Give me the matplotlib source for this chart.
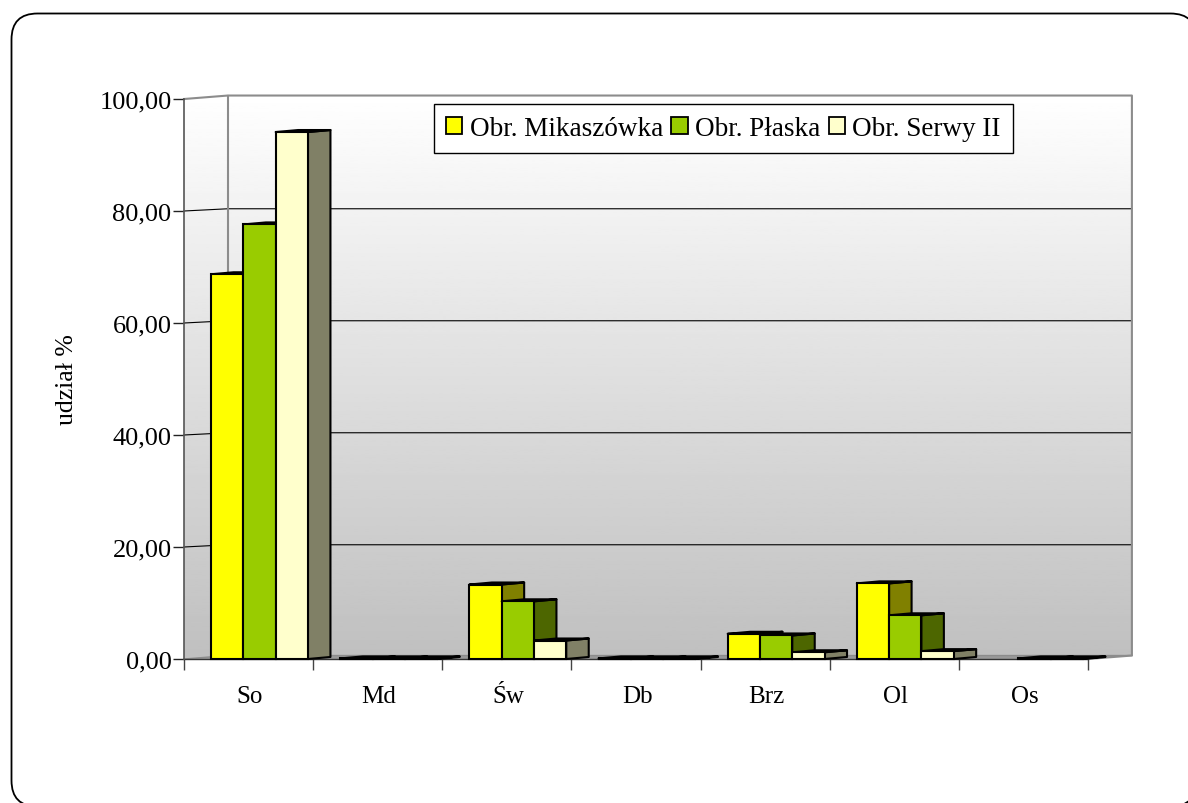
#!/usr/bin/env python3
"""Udzial gatunkow w obrebach - slupki z efektem 3D."""
import numpy as np
import matplotlib
matplotlib.use('Agg')
import matplotlib.pyplot as plt
from matplotlib.patches import Polygon, Rectangle, FancyBboxPatch

categories = ['So', 'Md', 'Św', 'Db', 'Brz', 'Ol', 'Os']
mikaszowka = [68.7, 0.1, 13.3, 0.1, 4.5, 13.5, 0.0]
plaska = [77.6, 0.1, 10.3, 0.1, 4.2, 7.8, 0.1]
serwy = [94.1, 0.1, 3.3, 0.1, 1.2, 1.4, 0.1]
series_names = ['Obr. Mikaszówka', 'Obr. Płaska', 'Obr. Serwy II']
y_ticks = [0, 20, 40, 60, 80, 100]

FRONT = ['#ffff00', '#99cc00', '#ffffcc']
SIDE = ['#808000', '#4d6600', '#808066']
BAR_W = 0.25
BAR_OFF = 0.21
DX, DY = 0.174, 0.36     # glebokosc slupka
WX, WY = 0.34, 0.62      # przesuniecie sciany tylnej
GRID_WY = 0.4            # linie siatki wchodza w sciane nizej niz jej gorna krawedz

plt.rcParams['font.family'] = ['Liberation Serif']
fig = plt.figure(figsize=(11.88, 8.04), dpi=100)

# ramka z zaokraglonymi rogami, wychodzi poza obraz z prawej i u dolu
bg = fig.add_axes([0, 0, 1, 1])
bg.set_xlim(0, 1188)
bg.set_ylim(804, 0)
bg.axis('off')
bg.add_patch(FancyBboxPatch((11.5, 14.5), 1185, 793, boxstyle='round,pad=0,rounding_size=26',
                            fc='white', ec='black', lw=1.3))

ax = fig.add_axes([184 / 1188, (804 - 660) / 804, 904 / 1188, 560 / 804])
ax.set_xlim(0, 7)
ax.set_ylim(0, 100)
ax.patch.set_alpha(0)

# tlo: sciana tylna i boczna z gradientem
grad = np.linspace(0.75, 1.0, 256).reshape(-1, 1)
im = ax.imshow(grad, extent=(0, 7 + WX, 0, 100 + WY), origin='lower', cmap='gray',
               vmin=0, vmax=1, aspect='auto', zorder=0)
wall = Polygon([(0, 0), (0, 100), (WX, 100 + WY), (7 + WX, 100 + WY), (7 + WX, WY), (7, 0)],
               closed=True, fc='none', ec='none', transform=ax.transData)
ax.add_patch(wall)
wall.set_clip_on(False)
im.set_clip_path(wall)
im.set_clip_box(fig.bbox)
ax.set_xlim(0, 7)
ax.set_ylim(0, 100)

# podloga
ax.add_patch(Polygon([(0, 0), (WX, WY), (7 + WX, WY), (7, 0)], closed=True, fc='#999999',
                     ec='none', zorder=1, clip_on=False))

# linie siatki i obrys scian
for v in y_ticks[1:-1]:
    ax.plot([0, WX, 7 + WX], [v, v + GRID_WY, v + GRID_WY], color='black', lw=0.8, zorder=1.5,
            clip_on=False)
edge = '#8c8c8c'
ax.plot([0, WX, 7 + WX, 7 + WX, 7], [100, 100 + WY, 100 + WY, WY, 0], color=edge, lw=1.5,
        zorder=1.5, clip_on=False)
ax.plot([WX, WX], [WY, 100 + WY], color=edge, lw=1.5, zorder=1.5, clip_on=False)
ax.plot([0, WX, 7 + WX], [0, WY, WY], color=edge, lw=1.0, zorder=1.5, clip_on=False)

# slupki, seria po serii od lewej
for s, vals in enumerate([mikaszowka, plaska, serwy]):
    for i, v in enumerate(vals):
        if v <= 0:
            continue
        x0 = i + BAR_OFF + s * BAR_W
        x1 = x0 + BAR_W
        z = 3 + s * 0.1
        ax.add_patch(Polygon([(x1, 0), (x1 + DX, DY), (x1 + DX, v + DY), (x1, v)], closed=True,
                             fc=SIDE[s], ec='black', lw=1.5, zorder=z - 0.5 + s * 0.01, clip_on=False,
                             joinstyle='round'))
        ax.add_patch(Polygon([(x0, v), (x0 + DX, v + DY), (x1 + DX, v + DY), (x1, v)], closed=True,
                             fc=FRONT[s], ec='black', lw=1.5, zorder=z, clip_on=False,
                             joinstyle='round'))
        ax.add_patch(Rectangle((x0, 0), BAR_W, v, fc=FRONT[s], ec='black', lw=1.5,
                               zorder=z + 0.05, clip_on=False))

# osie
for side in ['top', 'right']:
    ax.spines[side].set_visible(False)
ax.spines['left'].set_color('#555555')
ax.spines['bottom'].set_color('#333333')
ax.spines['left'].set_linewidth(1.2)
ax.spines['bottom'].set_linewidth(1.0)
ax.spines['bottom'].set_zorder(2)
ax.set_yticks(y_ticks)
ax.set_yticklabels([f'{v:.2f}'.replace('.', ',') for v in y_ticks], fontsize=19)
ax.set_xticks(range(8))
ax.set_xticklabels([''] * 8)
ax.tick_params(axis='x', length=8, width=1, color='#444444', direction='out')
ax.tick_params(axis='y', length=8, width=1, color='#222222', direction='out', pad=1)
for i, name in enumerate(categories):
    ax.annotate(name, (i + 0.5, 0), xytext=(1, -27), textcoords='offset points', ha='center',
                va='center', fontsize=18, annotation_clip=False)
ax.set_ylabel('udział %', fontsize=18.5, labelpad=15)

# legenda
handles = [Rectangle((0, 0), 1, 1, fc=c, ec='black', lw=1.3) for c in FRONT]
leg = ax.legend(handles, series_names, loc='upper left', bbox_to_anchor=((434 - 184) / 904, (660 - 105) / 560),
                ncol=3, fontsize=19.5, frameon=True, fancybox=False, framealpha=1, edgecolor='black',
                borderaxespad=0, handlelength=0.6, handleheight=0.6, handletextpad=0.28,
                columnspacing=0.3, borderpad=0.45)
leg.get_frame().set_linewidth(1.0)
leg.set_zorder(6)

fig.savefig('out.png', dpi=100)
